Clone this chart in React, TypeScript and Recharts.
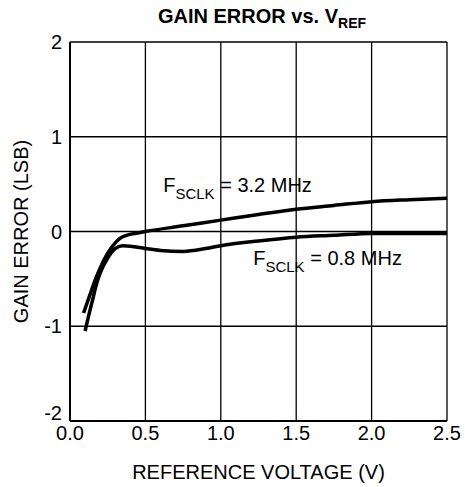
import React from 'react'
import { LineChart, Line, XAxis, YAxis, CartesianGrid, ReferenceDot } from 'recharts'

// reference voltage (V) / gain error (LSB)
const vref32 = [0.09, 0.125, 0.175, 0.225, 0.275, 0.325, 0.375, 0.45, 0.5, 0.75, 1.0, 1.25, 1.5, 1.75, 2.0, 2.25, 2.5]
const err32 = [-0.86, -0.7, -0.48, -0.3, -0.17, -0.08, -0.04, -0.015, 0, 0.06, 0.12, 0.18, 0.235, 0.275, 0.315, 0.335, 0.35]

const vref08 = [0.1, 0.125, 0.15, 0.175, 0.2, 0.25, 0.3, 0.35, 0.4, 0.5, 0.6, 0.75, 0.9, 1.0, 1.25, 1.5, 1.75, 2.0, 2.5]
const err08 = [-1.05, -0.88, -0.72, -0.56, -0.44, -0.28, -0.18, -0.15, -0.155, -0.18, -0.2, -0.21, -0.18, -0.15, -0.1, -0.06, -0.04, -0.02, -0.02]

const xTicks = [0, 0.5, 1, 1.5, 2, 2.5]
const yTicks = [-2, -1, 0, 1, 2]

const s32 = vref32.map((v, i) => ({ v, e: err32[i] }))
const s08 = vref08.map((v, i) => ({ v, e: err08[i] }))

const FONT = 'Liberation Sans, Arial, sans-serif'

// label with subscript, anchored at the data point
const fsclk = (mhz: string) => (props: any) => {
  const { x, y } = props.viewBox
  return (
    <text x={x} y={y} fontFamily={FONT} fontSize={20} fill="#000">
      F<tspan fontSize={15} dy={7}>SCLK</tspan>
      <tspan dy={-7}>{` = ${mhz} MHz`}</tspan>
    </text>
  )
}

// y tick: the bottom one sits a bit higher so it clears 0.0
const YTick = (props: any) => {
  const { x, y, payload } = props
  const lift = payload.value === -2 ? -8 : 0
  return (
    <text x={x} y={y + lift} dy="0.355em" textAnchor="end" fontFamily={FONT} fontSize={20} fill="#000">
      {payload.value}
    </text>
  )
}

const App = () => {
  return (
    <div style={{ position: 'absolute', left: 0, top: 0, width: 465, height: 487, background: '#fff' }}>
      <svg width={465} height={34} style={{ position: 'absolute', left: 0, top: 0 }}>
        <text x={262} y={23} textAnchor="middle" fontFamily={FONT} fontSize={20} fontWeight="bold">
          GAIN ERROR vs. V<tspan fontSize={14} dy={5}>REF</tspan>
        </text>
      </svg>
      <LineChart width={465} height={487} margin={{ top: 42, right: 18, bottom: 0, left: 30 }}>
        <CartesianGrid stroke="#000" strokeWidth={1.3} />
        <XAxis
          type="number"
          dataKey="v"
          domain={[0, 2.5]}
          ticks={xTicks}
          height={66}
          tickFormatter={(t: number) => t.toFixed(1)}
          axisLine={{ stroke: '#000', strokeWidth: 2 }}
          tickLine={false}
          tickSize={0}
          tickMargin={5}
          tick={{ fill: '#000', fontSize: 20, fontFamily: FONT }}
          label={{ value: 'REFERENCE VOLTAGE (V)', position: 'insideBottom', offset: 8, fill: '#000', fontSize: 20, fontFamily: FONT }}
        />
        <YAxis
          type="number"
          domain={[-2, 2]}
          ticks={yTicks}
          width={40}
          axisLine={{ stroke: '#000', strokeWidth: 2 }}
          tickLine={false}
          tickSize={0}
          tickMargin={8}
          tick={<YTick />}
          label={{ value: 'GAIN ERROR (LSB)', angle: -90, position: 'insideLeft', offset: -9, fill: '#000', fontSize: 20, fontFamily: FONT, style: { textAnchor: 'middle' } }}
        />
        <Line data={s32} dataKey="e" type="monotone" stroke="#000" strokeWidth={3.5} dot={false} isAnimationActive={false} />
        <Line data={s08} dataKey="e" type="monotone" stroke="#000" strokeWidth={3.5} dot={false} isAnimationActive={false} />
        <ReferenceDot x={0.618} y={0.418} r={0} stroke="none" fill="none" label={{ content: fsclk('3.2') }} />
        <ReferenceDot x={1.215} y={-0.35} r={0} stroke="none" fill="none" label={{ content: fsclk('0.8') }} />
      </LineChart>
    </div>
  )
}

export default App
